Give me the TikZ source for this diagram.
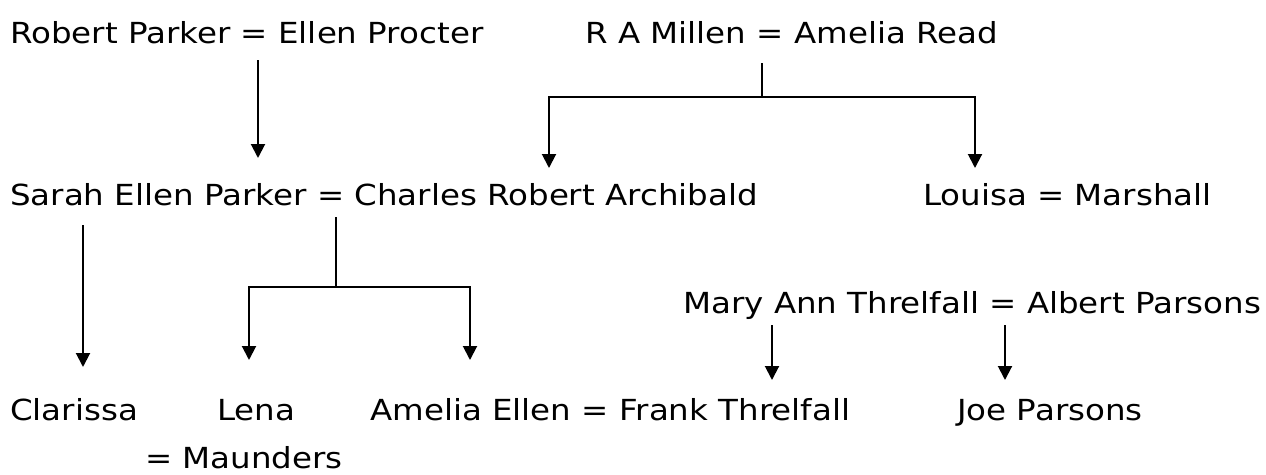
\documentclass[tikz,border=0pt]{standalone}
\usepackage{fontspec}
\setmainfont{DejaVu Sans}[FakeStretch=1.12]
\usetikzlibrary{arrows.meta}
\tikzset{
  person/.style={anchor=base west, inner sep=0pt, font=\fontsize{29}{32}\selectfont},
  arr/.style={line width=2pt, -{Triangle[width=14pt,length=14pt]}},
  ln/.style={line width=2pt}
}
\begin{document}
\begin{tikzpicture}[x=1pt,y=-1pt]
\useasboundingbox (0,0) rectangle (1266,474);
% texts
\node[person] (rp) at (10,43) {Robert Parker = Ellen Procter};
\node[person] (rm) at (585,43) {R A Millen = Amelia Read};
\node[person] (sp) at (10,205) {Sarah Ellen Parker = Charles Robert Archibald};
\node[person] (lm) at (923,205) {Louisa = Marshall};
\node[person] (mt) at (683,313) {Mary Ann Threlfall = Albert Parsons};
\node[person] (cl) at (10,420) {Clarissa};
\node[person] (le) at (217,420) {Lena};
\node[person] (ma) at (145,468) {= Maunders};
\node[person] (ae) at (370,420) {Amelia Ellen = Frank Threlfall};
\node[person] (jp) at (957,420) {Joe Parsons};
% coordinates
\coordinate (a1s) at (258,60);  \coordinate (a1e) at (258,158);
\coordinate (m0) at (762,63);   \coordinate (m1) at (762,97);
\coordinate (ml) at (549,97);   \coordinate (mle) at (549,168);
\coordinate (mr) at (975,97);   \coordinate (mre) at (975,168);
\coordinate (cs) at (83,225);   \coordinate (ce) at (83,367);
\coordinate (s0) at (336,217);  \coordinate (s1) at (336,287);
\coordinate (sl) at (249,287);  \coordinate (sle) at (249,360);
\coordinate (sr) at (470,287);  \coordinate (sre) at (470,360);
\coordinate (t1s) at (772,325); \coordinate (t1e) at (772,380);
\coordinate (t2s) at (1005,325);\coordinate (t2e) at (1005,380);
% connectors
\draw[arr] (a1s) -- (a1e);
\draw[ln] (m0) -- (m1);
\draw[arr] (m1) -- (ml) -- (mle);
\draw[arr] (m1) -- (mr) -- (mre);
\draw[arr] (cs) -- (ce);
\draw[ln] (s0) -- (s1);
\draw[arr] (s1) -- (sl) -- (sle);
\draw[arr] (s1) -- (sr) -- (sre);
\draw[arr] (t1s) -- (t1e);
\draw[arr] (t2s) -- (t2e);
\end{tikzpicture}
\end{document}
